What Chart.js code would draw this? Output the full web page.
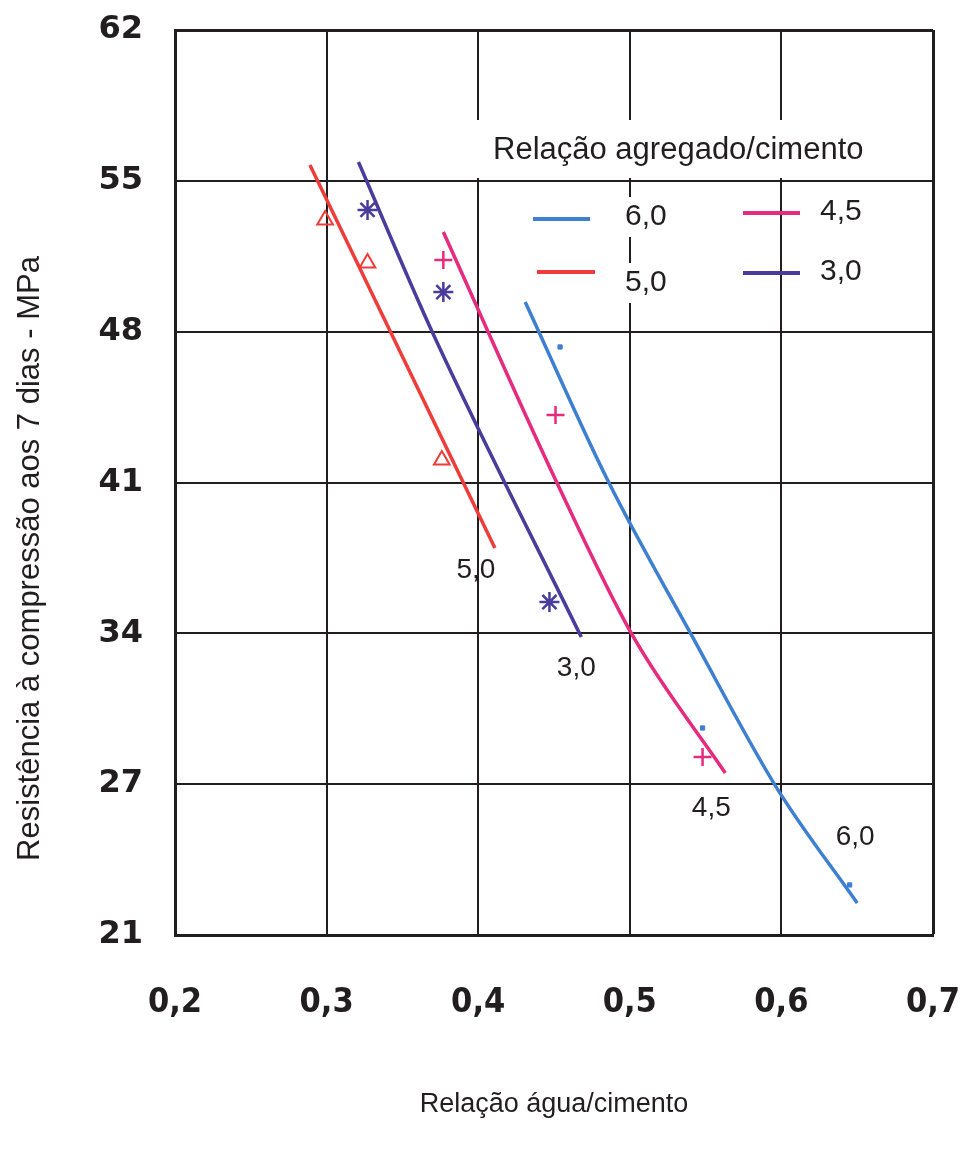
<!DOCTYPE html>
<html>
<head>
<meta charset="utf-8">
<script src="https://cdn.jsdelivr.net/npm/chart.js@4.4.1/dist/chart.umd.min.js"></script>
<style>
  html, body { margin: 0; padding: 0; background: #fff; }
</style>
</head>
<body>
<canvas id="chart" width="961" height="1155"></canvas>
<script>
// axis ticks (y is evenly spaced: converted psi values, labelled in MPa)
const xTicks = [0.2, 0.3, 0.4, 0.5, 0.6, 0.7];
const xTickLabels = ["0,2", "0,3", "0,4", "0,5", "0,6", "0,7"];
const yTicks = [20.7, 27.6, 34.5, 41.4, 48.3, 55.2, 62.1];
const yTickLabels = ["21", "27", "34", "41", "48", "55", "62"];

// aggregate/cement ratios
const seriesLabels = ["6,0", "5,0", "4,5", "3,0"];

// fitted curves
const fit60X = [0.431, 0.486, 0.541, 0.597, 0.650];
const fit60Y = [49.66, 41.42, 34.38, 27.42, 22.16];
const fit50X = [0.289, 0.411];
const fit50Y = [55.92, 38.40];
const fit45X = [0.377, 0.452, 0.502, 0.563];
const fit45Y = [52.86, 41.38, 34.38, 28.11];
const fit30X = [0.321, 0.370, 0.468];
const fit30Y = [56.06, 48.24, 34.33];

// measured points
const obs60X = [0.454, 0.548, 0.645];
const obs60Y = [47.60, 30.17, 22.99];
const obs50X = [0.299, 0.327, 0.376];
const obs50Y = [53.41, 51.44, 42.43];
const obs45X = [0.377, 0.451, 0.548];
const obs45Y = [51.58, 44.49, 28.84];
const obs30X = [0.327, 0.377, 0.447];
const obs30Y = [53.87, 50.11, 35.93];

const colors = ["#3d7fd1", "#ee3c3a", "#e62a7d", "#4a3c9c"];
const ink = "#221e1f";
const txtFont = "'Liberation Sans', Arial, sans-serif";

function xy(xs, ys) {
  return xs.map((v, i) => ({ x: v, y: ys[i] }));
}

function fitSet(i, xs, ys, endLabel) {
  return {
    label: seriesLabels[i], kind: "fit", endLabel,
    data: xy(xs, ys), showLine: true, cubicInterpolationMode: "monotone",
    borderColor: colors[i], borderWidth: 3.5, pointRadius: 0,
  };
}

function obsSet(i, xs, ys, style, radius, width) {
  return {
    label: seriesLabels[i] + " pts", kind: "obs",
    data: xy(xs, ys), showLine: false,
    pointStyle: style, pointRadius: radius, borderWidth: width,
    borderColor: colors[i], backgroundColor: style === "rect" ? colors[i] : "rgba(0,0,0,0)",
  };
}

// text placed inside the plot, offsets from the chart area
const layout = {
  yTitle: { x: 30, dy: 76 },
  legendTitle: { dx: 318, dy: 120 },
  legendItems: [
    { dx0: 358, dx1: 415, dy: 189, tx: 450, ty: 187 },
    { dx0: 362, dx1: 420, dy: 242, tx: 450, ty: 253 },
    { dx0: 568, dx1: 625, dy: 183, tx: 645, ty: 182 },
    { dx0: 568, dx1: 625, dy: 243, tx: 645, ty: 242 },
  ],
};

const annotate = {
  id: "annotate",
  beforeDatasetsDraw(chart) {
    const { ctx, chartArea: a } = chart;
    ctx.save();
    ctx.textBaseline = "middle";
    ctx.textAlign = "left";

    // legend title with white backing
    ctx.font = "31px " + txtFont;
    const t = "Relação agregado/cimento";
    const tw = ctx.measureText(t).width;
    const tx = a.left + layout.legendTitle.dx, ty = a.top + layout.legendTitle.dy;
    ctx.fillStyle = "#fff";
    ctx.fillRect(tx - 16, ty - 30, tw + 24, 58);
    ctx.fillStyle = ink;
    ctx.fillText(t, tx, ty);

    // legend entries
    const fits = chart.data.datasets.filter((d) => d.kind === "fit");
    ctx.font = "30px " + txtFont;
    layout.legendItems.forEach((p, i) => {
      const ds = fits[i];
      const w = ctx.measureText(ds.label).width;
      ctx.fillStyle = "#fff";
      ctx.fillRect(a.left + p.tx - 8, a.top + p.ty - 20, w + 16, 40);
      ctx.strokeStyle = ds.borderColor;
      ctx.lineWidth = 4;
      ctx.beginPath();
      ctx.moveTo(a.left + p.dx0, a.top + p.dy);
      ctx.lineTo(a.left + p.dx1, a.top + p.dy);
      ctx.stroke();
      ctx.fillStyle = ink;
      ctx.fillText(ds.label, a.left + p.tx, a.top + p.ty);
    });
    ctx.restore();
  },
  afterDraw(chart) {
    const { ctx, chartArea: a, scales: { x, y } } = chart;
    ctx.save();
    ctx.fillStyle = ink;
    ctx.textAlign = "center";
    ctx.textBaseline = "middle";

    // labels at the ends of the curves
    ctx.font = "28px " + txtFont;
    chart.data.datasets.forEach((ds) => {
      if (ds.kind !== "fit") return;
      const last = ds.data[ds.data.length - 1];
      ctx.fillText(ds.label, x.getPixelForValue(last.x) + ds.endLabel.dx, y.getPixelForValue(last.y) + ds.endLabel.dy);
    });

    // y axis title
    ctx.font = "31px " + txtFont;
    ctx.translate(layout.yTitle.x, (a.top + a.bottom) / 2 + layout.yTitle.dy);
    ctx.rotate(-Math.PI / 2);
    ctx.fillText("Resistência à compressão aos 7 dias - MPa", 0, 0);
    ctx.restore();
  },
};

new Chart(document.getElementById("chart"), {
  type: "scatter",
  data: {
    datasets: [
      fitSet(0, fit60X, fit60Y, { dx: -2, dy: -66 }),
      fitSet(1, fit50X, fit50Y, { dx: -19, dy: 22 }),
      fitSet(2, fit45X, fit45Y, { dx: -14, dy: 35 }),
      fitSet(3, fit30X, fit30Y, { dx: -5, dy: 31 }),
      obsSet(0, obs60X, obs60Y, "rect", 3, 1),
      obsSet(1, obs50X, obs50Y, "triangle", 9, 2),
      obsSet(2, obs45X, obs45Y, "cross", 9, 2.5),
      obsSet(3, obs30X, obs30Y, "star", 10, 2.5),
    ],
  },
  options: {
    responsive: false,
    animation: false,
    events: [],
    layout: { padding: { top: 30, right: 28, left: 0, bottom: 0 } },
    plugins: { legend: { display: false }, tooltip: { enabled: false } },
    scales: {
      x: {
        type: "linear", min: 0.2, max: 0.7,
        afterBuildTicks: (s) => { s.ticks = xTicks.map((v) => ({ value: v })); },
        afterFit: (s) => { s.height = 220; s.paddingLeft = 0; s.paddingRight = 0; },
        grid: { color: ink, lineWidth: (c) => (c.index === xTicks.length - 1 ? 3 : 2), drawTicks: false },
        border: { color: ink, width: 3 },
        ticks: {
          padding: 48, color: ink, autoSkip: false, maxRotation: 0,
          font: { family: "'Liberation Sans Narrow', 'DejaVu Sans Condensed', 'Liberation Sans', sans-serif", size: 34, weight: "bold" },
          callback: (v, i) => xTickLabels[i],
        },
        title: {
          display: true, text: "Relação água/cimento", color: ink,
          font: { family: txtFont, size: 27 }, padding: { top: 0, bottom: 34 },
        },
      },
      y: {
        type: "linear", min: yTicks[0], max: yTicks[yTicks.length - 1],
        afterBuildTicks: (s) => { s.ticks = yTicks.map((v) => ({ value: v })); },
        afterFit: (s) => { s.width = 175; s.paddingTop = 0; s.paddingBottom = 0; },
        grid: { color: ink, lineWidth: (c) => (c.index === yTicks.length - 1 ? 3 : 2), drawTicks: false },
        border: { color: ink, width: 3 },
        ticks: {
          padding: 32, color: ink, autoSkip: false,
          font: { family: "'DejaVu Sans', sans-serif", size: 32, weight: "bold" },
          callback: (v, i) => yTickLabels[i],
        },
      },
    },
  },
  plugins: [annotate],
});
</script>
</body>
</html>
